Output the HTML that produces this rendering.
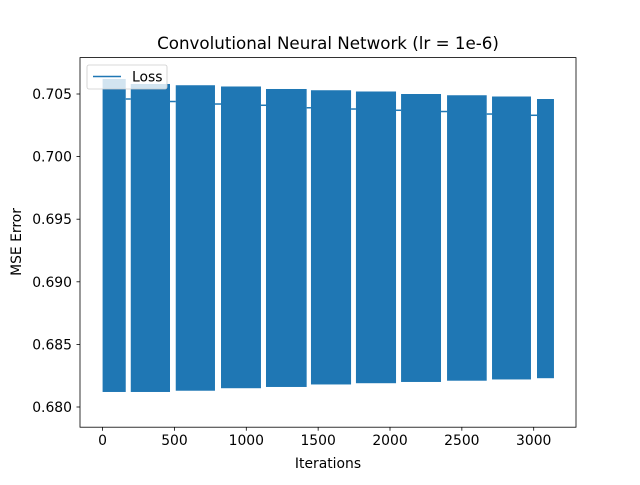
<!DOCTYPE html>
<html><head><meta charset="utf-8"><style>
body{margin:0;background:#fff}
svg{font-family:"DejaVu Sans","Liberation Sans",sans-serif}
</style></head><body>
<svg id="chart" width="640" height="480" xmlns="http://www.w3.org/2000/svg">
<rect width="640" height="480" fill="#fff"/>
<text x="328" y="49" font-size="16.7" text-anchor="middle">Convolutional Neural Network (lr = 1e-6)</text>
<g id="plot"></g>
<rect x="80" y="57.6" width="496" height="369.6" fill="none" stroke="#000" stroke-width="0.8"/>
<g id="ticks"></g>
<text x="328" y="468" font-size="13.9" text-anchor="middle">Iterations</text>
<text transform="translate(21,242) rotate(-90)" font-size="13.9" text-anchor="middle">MSE Error</text>
<g>
<rect x="87" y="65" width="80" height="24" rx="2" fill="#fff" fill-opacity="0.8" stroke="#ccc" stroke-width="0.8"/>
<line x1="93" y1="76.5" x2="121" y2="76.5" stroke="#1f77b4" stroke-width="1.5"/>
<text x="132" y="81.5" font-size="13.9">Loss</text>
</g>
</svg>
<script>
const blockStart=[0,196,509,824,1137,1450,1763,2077,2397,2710,3023];
const blockEnd=[161,469,782,1102,1420,1729,2042,2355,2673,2981,3141];
const blockTop=[0.7062,0.7058,0.7057,0.7056,0.7054,0.7053,0.7052,0.7050,0.7049,0.7048,0.7046];
const blockBottom=[0.6812,0.6812,0.6813,0.6815,0.6816,0.6818,0.6819,0.6820,0.6821,0.6822,0.6823];
const gapLevel=[0.7046,0.7044,0.7042,0.7041,0.7039,0.7038,0.7037,0.7036,0.7034,0.7033];
const xTicks=[0,500,1000,1500,2000,2500,3000];
const yTicks=[0.680,0.685,0.690,0.695,0.700,0.705];
const xScale=v=>102.6+v*0.1437;
const yScale=v=>94-(v-0.705)/0.005*62.6;
const NS="http://www.w3.org/2000/svg";
const plot=document.getElementById('plot'),ticks=document.getElementById('ticks');
function mk(t,a,p){const e=document.createElementNS(NS,t);for(const k in a)e.setAttribute(k,a[k]);p.appendChild(e);return e;}
for(let i=0;i<blockStart.length;i++){
  const x0=xScale(blockStart[i]),x1=xScale(blockEnd[i]);
  const r=mk('rect',{x:x0,y:yScale(blockTop[i]),width:x1-x0,height:yScale(blockBottom[i])-yScale(blockTop[i]),fill:'#1f77b4'},plot);
  
  
  if(i<gapLevel.length){
    const g=mk('line',{x1:x1,x2:xScale(blockStart[i+1]),y1:yScale(gapLevel[i]),y2:yScale(gapLevel[i]),stroke:'#1f77b4','stroke-width':1.5},plot);
    
    
  }
}
xTicks.forEach(v=>{const x=xScale(v);
  const l=mk('line',{x1:x,x2:x,y1:427.2,y2:430.7,stroke:'#000','stroke-width':0.8},ticks);
  
  
  const t=mk('text',{x:x,y:445,'font-size':13.9,'text-anchor':'middle'},ticks);t.textContent=v;
  
  
});
yTicks.forEach(v=>{const y=yScale(v);
  const l=mk('line',{x1:76.5,x2:80,y1:y,y2:y,stroke:'#000','stroke-width':0.8},ticks);
  
  
  const t=mk('text',{x:72,y:y+5,'font-size':13.9,'text-anchor':'end'},ticks);t.textContent=v.toFixed(3);
  
  
});
</script>
</body></html>
